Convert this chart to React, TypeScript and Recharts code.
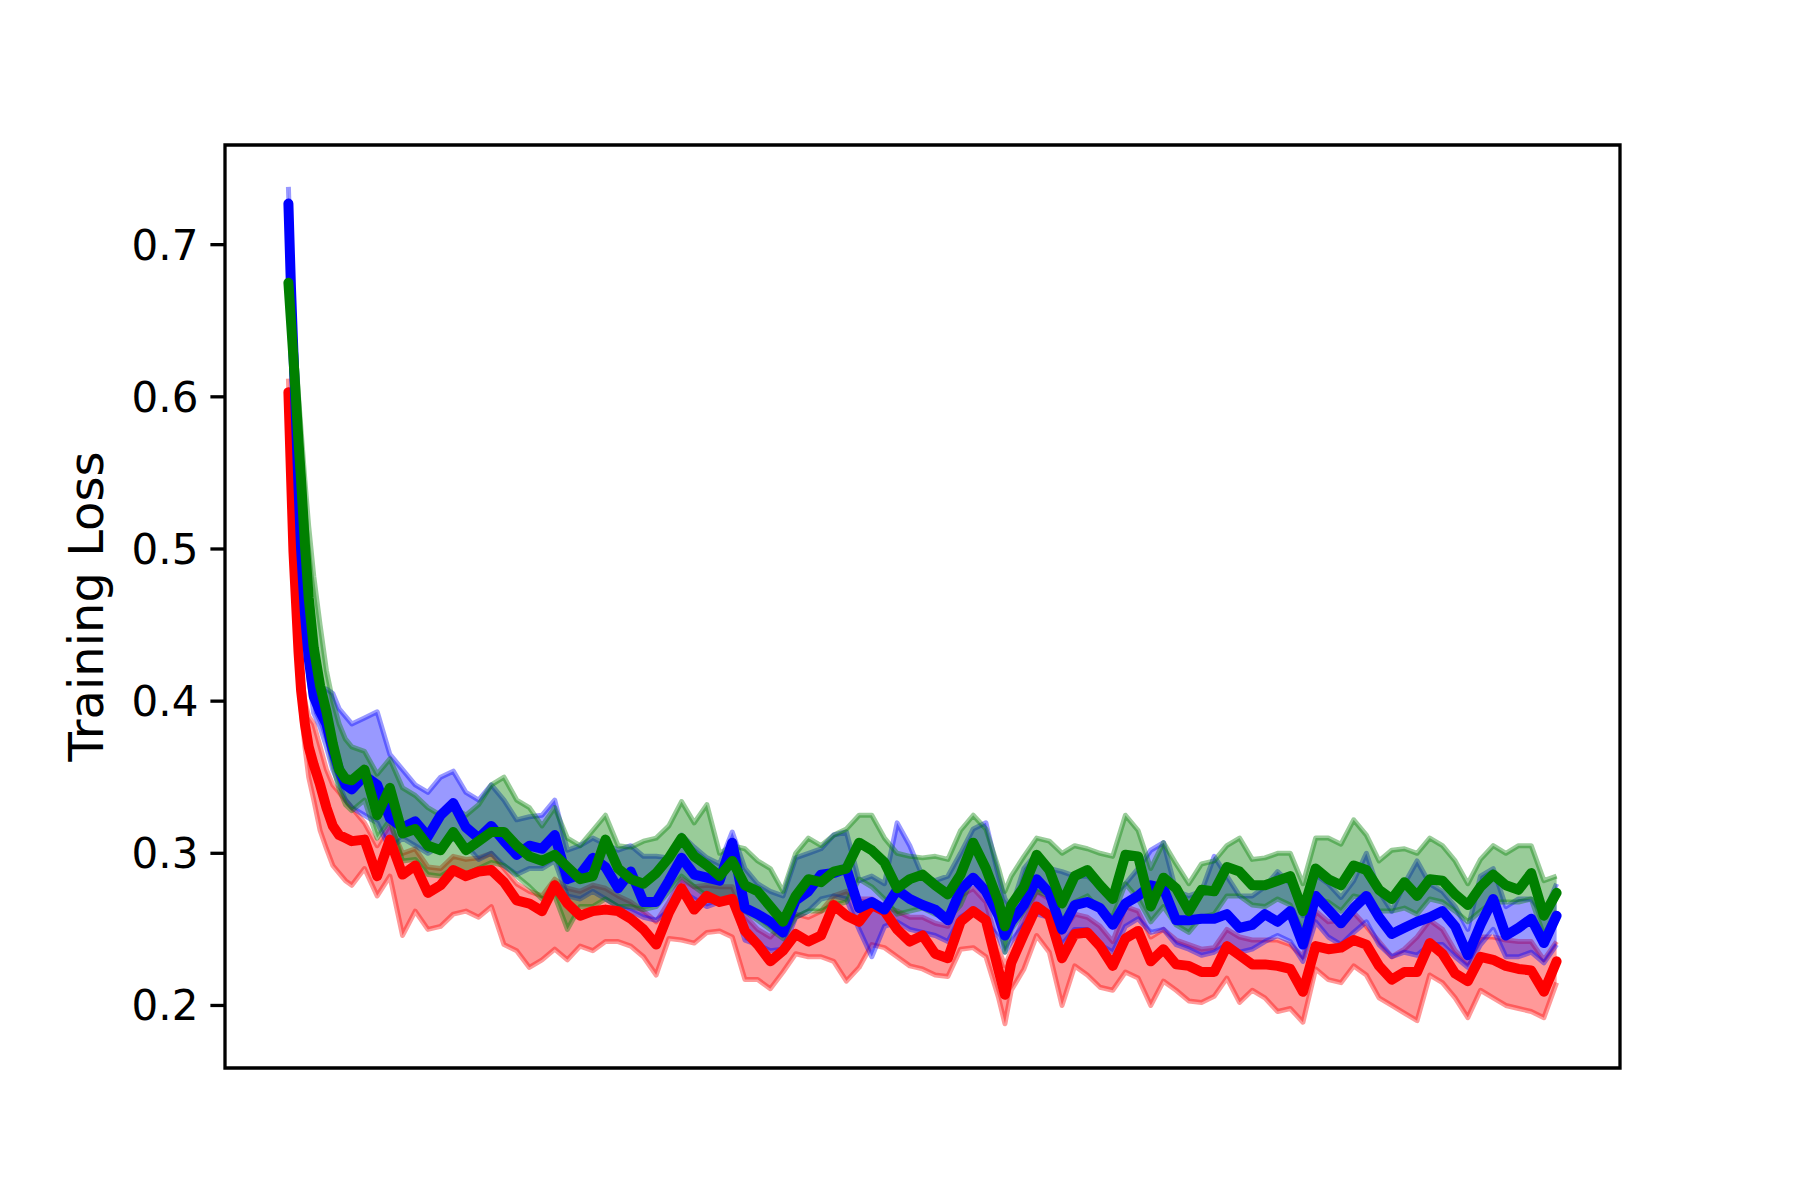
import { ComposedChart, Line, Area, XAxis, YAxis, ReferenceArea } from "recharts";

// training step (x) positions of every sample
const steps = [
  0, 2, 4, 6, 8, 10, 13, 16, 20, 25, 30, 35, 40, 45, 50,
  60, 70, 80, 90, 100, 110, 120, 130, 140, 150,
  160, 170, 180, 190, 200, 210, 220, 230, 240, 250,
  260, 270, 280, 290, 300, 310, 320, 330, 340, 350,
  360, 370, 380, 390, 400, 410, 420, 430, 440, 450,
  460, 470, 480, 490, 500, 510, 520, 530, 540, 550,
  560, 565,
  570, 580, 590, 600, 610, 620, 630, 640, 650, 660,
  670, 680, 690, 700, 710, 720, 730, 740, 750, 760,
  770, 780, 790, 800, 810, 820, 830, 840, 850, 860,
  870, 880, 890, 900, 910, 920, 930, 940, 950, 960,
  970, 980, 990, 1000,
];

const redLoss = [
  0.603, 0.55, 0.498, 0.465, 0.432, 0.407, 0.385, 0.37, 0.358, 0.345, 0.33, 0.318, 0.312, 0.31, 0.308,
  0.309, 0.285, 0.309, 0.286, 0.292, 0.274, 0.279, 0.289, 0.285, 0.288,
  0.289, 0.281, 0.269, 0.267, 0.262, 0.279, 0.267, 0.259, 0.262, 0.263,
  0.262, 0.257, 0.25, 0.24, 0.261, 0.277, 0.263, 0.272, 0.268, 0.27,
  0.249, 0.24, 0.229, 0.236, 0.247, 0.242, 0.246, 0.266, 0.259, 0.255,
  0.266, 0.262, 0.25, 0.242, 0.246, 0.234, 0.231, 0.255, 0.262, 0.256,
  0.223, 0.207,
  0.228, 0.247, 0.265, 0.259, 0.231, 0.247, 0.248, 0.239, 0.226, 0.244,
  0.249, 0.229, 0.237, 0.227, 0.226, 0.222, 0.222, 0.239, 0.233, 0.227,
  0.227, 0.226, 0.224, 0.209, 0.239, 0.237, 0.238, 0.243, 0.24, 0.226,
  0.217, 0.222, 0.222, 0.241, 0.234, 0.221, 0.216, 0.232, 0.23, 0.226,
  0.224, 0.223, 0.209, 0.229,
];
const redHigh = [
  0.612, 0.56, 0.51, 0.477, 0.444, 0.42, 0.4, 0.39, 0.385, 0.37, 0.355, 0.345, 0.34, 0.335, 0.33,
  0.32, 0.305, 0.319, 0.3, 0.303, 0.291, 0.29, 0.298, 0.296, 0.297,
  0.3, 0.29, 0.28, 0.275, 0.272, 0.283, 0.277, 0.275, 0.279, 0.277,
  0.272, 0.268, 0.262, 0.255, 0.268, 0.283, 0.278, 0.279, 0.278, 0.278,
  0.259, 0.25, 0.245, 0.254, 0.26, 0.258, 0.262, 0.272, 0.275, 0.27,
  0.27, 0.265, 0.262, 0.258, 0.258, 0.254, 0.252, 0.272, 0.277, 0.268,
  0.237, 0.226,
  0.236, 0.258, 0.275, 0.27, 0.248, 0.26, 0.258, 0.252, 0.242, 0.265,
  0.262, 0.245, 0.25, 0.243, 0.24, 0.237, 0.238, 0.25, 0.245, 0.243,
  0.243, 0.243, 0.24, 0.232, 0.262, 0.255, 0.256, 0.261, 0.252, 0.242,
  0.232, 0.237, 0.245, 0.256, 0.25, 0.236, 0.228, 0.245, 0.245, 0.243,
  0.242, 0.242, 0.23, 0.242,
];
const redLow = [
  0.598, 0.54, 0.486, 0.453, 0.42, 0.395, 0.37, 0.35, 0.335, 0.315, 0.303, 0.292, 0.287, 0.282, 0.279,
  0.29, 0.272, 0.285, 0.246, 0.262, 0.25, 0.252, 0.26, 0.262, 0.258,
  0.265, 0.24, 0.236, 0.225, 0.23, 0.237, 0.23, 0.239, 0.236, 0.242,
  0.242, 0.239, 0.232, 0.22, 0.244, 0.243, 0.241, 0.248, 0.249, 0.245,
  0.217, 0.217, 0.211, 0.222, 0.234, 0.232, 0.232, 0.229, 0.216, 0.225,
  0.24, 0.238, 0.232, 0.226, 0.224, 0.22, 0.219, 0.237, 0.238, 0.232,
  0.205, 0.188,
  0.21, 0.224, 0.246, 0.235, 0.2, 0.226, 0.22, 0.212, 0.21, 0.222,
  0.218, 0.2, 0.216, 0.21, 0.203, 0.202, 0.206, 0.218, 0.202, 0.21,
  0.205, 0.196, 0.198, 0.189, 0.224, 0.217, 0.215, 0.226, 0.22, 0.205,
  0.2, 0.195, 0.19, 0.22, 0.215, 0.205, 0.192, 0.21, 0.205, 0.2,
  0.198, 0.196, 0.192, 0.215,
];

const blueLoss = [
  0.727, 0.672, 0.628, 0.585, 0.54, 0.5, 0.458, 0.428, 0.403, 0.393, 0.385, 0.368, 0.355, 0.345, 0.342,
  0.351, 0.345, 0.323, 0.317, 0.321, 0.311, 0.325, 0.333, 0.317, 0.31,
  0.318, 0.308, 0.299, 0.305, 0.303, 0.312, 0.283, 0.286, 0.297, 0.291,
  0.277, 0.288, 0.268, 0.268, 0.282, 0.297, 0.286, 0.284, 0.282, 0.307,
  0.264, 0.26, 0.255, 0.248, 0.269, 0.275, 0.286, 0.287, 0.29, 0.264,
  0.268, 0.263, 0.276, 0.27, 0.266, 0.263, 0.256, 0.276, 0.284, 0.275,
  0.259, 0.246,
  0.255, 0.266, 0.283, 0.274, 0.25, 0.266, 0.268, 0.264, 0.253, 0.267,
  0.272, 0.279, 0.277, 0.256, 0.256, 0.257, 0.257, 0.26, 0.251, 0.253,
  0.26, 0.255, 0.262, 0.24, 0.272, 0.263, 0.254, 0.264, 0.272, 0.258,
  0.247, 0.251, 0.255, 0.258, 0.262, 0.252, 0.233, 0.253, 0.27, 0.246,
  0.251, 0.257, 0.241, 0.259,
];
const blueHigh = [
  0.738, 0.684, 0.64, 0.598, 0.553, 0.513, 0.472, 0.442, 0.418, 0.408, 0.408, 0.405, 0.395, 0.39, 0.385,
  0.389, 0.393, 0.365, 0.355, 0.345, 0.34, 0.35, 0.354, 0.34, 0.335,
  0.345, 0.335, 0.322, 0.324, 0.325, 0.335, 0.302, 0.305, 0.31, 0.306,
  0.302, 0.305, 0.298, 0.298, 0.297, 0.312, 0.304, 0.297, 0.293, 0.314,
  0.29, 0.28, 0.275, 0.272, 0.297, 0.3, 0.303, 0.312, 0.314, 0.282,
  0.285, 0.28, 0.32, 0.305, 0.285, 0.282, 0.285, 0.3, 0.316, 0.32,
  0.285, 0.27,
  0.264, 0.29, 0.3, 0.29, 0.288, 0.285, 0.285, 0.278, 0.272, 0.28,
  0.29, 0.302, 0.307, 0.275, 0.272, 0.275, 0.298, 0.285, 0.272, 0.272,
  0.278, 0.288, 0.28, 0.259, 0.286, 0.28, 0.271, 0.282, 0.3, 0.275,
  0.262, 0.28, 0.295, 0.28, 0.275, 0.265, 0.25, 0.285, 0.29, 0.265,
  0.27, 0.27, 0.26, 0.28,
];
const blueLow = [
  0.722, 0.662, 0.617, 0.574, 0.528, 0.488, 0.446, 0.416, 0.392, 0.383, 0.37, 0.355, 0.345, 0.335, 0.33,
  0.325, 0.32, 0.303, 0.31, 0.305, 0.3, 0.305, 0.31, 0.305, 0.296,
  0.3, 0.292, 0.286, 0.29, 0.29, 0.295, 0.272, 0.27, 0.275, 0.27,
  0.265, 0.262, 0.258, 0.256, 0.262, 0.275, 0.27, 0.265, 0.268, 0.27,
  0.243, 0.24, 0.236, 0.237, 0.258, 0.262, 0.27, 0.272, 0.27, 0.25,
  0.232, 0.252, 0.255, 0.25, 0.248, 0.246, 0.242, 0.258, 0.263, 0.255,
  0.245, 0.235,
  0.242, 0.253, 0.26, 0.258, 0.24, 0.25, 0.25, 0.24, 0.235, 0.252,
  0.257, 0.248, 0.25, 0.24, 0.237, 0.233, 0.235, 0.24, 0.235, 0.237,
  0.242, 0.246, 0.242, 0.229, 0.255, 0.245, 0.24, 0.248, 0.255, 0.24,
  0.232, 0.235, 0.233, 0.24, 0.24, 0.232, 0.225, 0.24, 0.25, 0.232,
  0.232, 0.235, 0.228, 0.24,
];

const greenLoss = [
  0.675, 0.65, 0.625, 0.598, 0.57, 0.545, 0.503, 0.468, 0.435, 0.41, 0.393, 0.372, 0.355, 0.349, 0.348,
  0.355, 0.325, 0.343, 0.313, 0.316, 0.305, 0.302, 0.314, 0.302, 0.308,
  0.314, 0.314, 0.305, 0.298, 0.295, 0.299, 0.291, 0.283, 0.285, 0.309,
  0.29, 0.283, 0.28, 0.287, 0.297, 0.31, 0.298, 0.292, 0.285, 0.295,
  0.279, 0.275, 0.265, 0.255, 0.272, 0.283, 0.281, 0.288, 0.29, 0.307,
  0.302, 0.294, 0.277, 0.283, 0.286, 0.279, 0.273, 0.286, 0.307, 0.29,
  0.268, 0.252,
  0.266, 0.278, 0.299, 0.289, 0.267, 0.285, 0.289, 0.279, 0.27, 0.299,
  0.298, 0.265, 0.284, 0.277, 0.262, 0.276, 0.275, 0.291, 0.288, 0.279,
  0.279, 0.282, 0.285, 0.262, 0.29, 0.283, 0.279, 0.292, 0.289, 0.276,
  0.27, 0.281, 0.272, 0.283, 0.282, 0.273, 0.266, 0.278, 0.286, 0.279,
  0.276, 0.287, 0.259, 0.274,
];
const greenHigh = [
  0.685, 0.668, 0.648, 0.625, 0.6, 0.578, 0.545, 0.515, 0.482, 0.45, 0.42, 0.4, 0.385, 0.375, 0.37,
  0.367, 0.352, 0.362, 0.343, 0.338, 0.33, 0.325, 0.33, 0.325, 0.332,
  0.345, 0.35, 0.335, 0.33, 0.318, 0.33, 0.31, 0.305, 0.315, 0.325,
  0.305, 0.304, 0.308, 0.31, 0.318, 0.334, 0.32, 0.332, 0.3, 0.305,
  0.303, 0.295, 0.29, 0.275, 0.3, 0.31, 0.305, 0.312, 0.316, 0.325,
  0.325, 0.31, 0.3, 0.298, 0.297, 0.298, 0.296, 0.315, 0.325, 0.316,
  0.29, 0.275,
  0.285, 0.298, 0.31, 0.308, 0.3, 0.305, 0.303, 0.3, 0.298, 0.325,
  0.315, 0.29, 0.307, 0.293, 0.28, 0.293, 0.295, 0.305, 0.31, 0.296,
  0.297, 0.3, 0.3, 0.28, 0.31, 0.31, 0.306, 0.322, 0.312, 0.295,
  0.302, 0.303, 0.3, 0.31, 0.305, 0.295, 0.28, 0.296, 0.305, 0.3,
  0.305, 0.305, 0.282, 0.285,
];
const greenLow = [
  0.668, 0.642, 0.617, 0.59, 0.562, 0.537, 0.495, 0.46, 0.425, 0.398, 0.378, 0.358, 0.342, 0.332, 0.328,
  0.335, 0.31, 0.322, 0.295, 0.296, 0.286, 0.285, 0.29, 0.286, 0.29,
  0.294, 0.292, 0.285, 0.278, 0.27, 0.272, 0.25, 0.265, 0.265, 0.27,
  0.265, 0.265, 0.263, 0.265, 0.275, 0.285, 0.278, 0.272, 0.268, 0.268,
  0.262, 0.256, 0.25, 0.244, 0.258, 0.262, 0.262, 0.266, 0.268, 0.283,
  0.278, 0.27, 0.26, 0.262, 0.264, 0.26, 0.257, 0.266, 0.285, 0.275,
  0.26, 0.235,
  0.25, 0.262, 0.275, 0.272, 0.255, 0.268, 0.272, 0.262, 0.258, 0.28,
  0.27, 0.255, 0.265, 0.253, 0.248, 0.258, 0.26, 0.272, 0.272, 0.266,
  0.265, 0.27, 0.266, 0.248, 0.27, 0.268, 0.262, 0.272, 0.27, 0.262,
  0.262, 0.264, 0.26, 0.27, 0.268, 0.262, 0.255, 0.262, 0.268, 0.268,
  0.268, 0.27, 0.246, 0.262,
];

const yTicks = [0.2, 0.3, 0.4, 0.5, 0.6, 0.7];

const rows = steps.map((step, i) => ({
  step,
  red: redLoss[i],
  redBand: [redLow[i], redHigh[i]],
  blue: blueLoss[i],
  blueBand: [blueLow[i], blueHigh[i]],
  green: greenLoss[i],
  greenBand: [greenLow[i], greenHigh[i]],
}));

const runs = [
  { key: "red", color: "#ff0000" },
  { key: "blue", color: "#0000ff" },
  { key: "green", color: "#008000" },
];

const X_DOMAIN: [number, number] = [-50, 1050];
const Y_DOMAIN: [number, number] = [0.1589, 0.7655];
const font = "'DejaVu Sans', sans-serif";

export default function App() {
  return (
    <div style={{ position: "absolute", left: 0, top: 0, width: 1800, height: 1200, background: "#fff" }}>
      <ComposedChart
        width={1800}
        height={1200}
        data={rows}
        margin={{ top: 145, right: 180, bottom: 132, left: 60 }}
      >
        <XAxis dataKey="step" type="number" domain={X_DOMAIN} allowDataOverflow hide />
        <YAxis
          type="number"
          width={165}
          domain={Y_DOMAIN}
          allowDataOverflow
          ticks={yTicks}
          tickFormatter={(v: number) => v.toFixed(1)}
          axisLine={false}
          tickSize={14.6}
          tickMargin={12}
          tickLine={{ stroke: "#000", strokeWidth: 3.3 }}
          tick={{ fontFamily: font, fontSize: 42, fill: "#000" }}
          label={{
            content: ({ viewBox }: any) => {
              const cx = viewBox.x + 26;
              const cy = viewBox.y + viewBox.height / 2;
              return (
                <text
                  x={cx}
                  y={cy}
                  transform={`rotate(-90 ${cx} ${cy})`}
                  textAnchor="middle"
                  dominantBaseline="central"
                  fontFamily={font}
                  fontSize={48}
                  fill="#000"
                >
                  Training Loss
                </text>
              );
            },
          }}
        />
        {runs.map((r) => (
          <Area
            key={`${r.key}-band`}
            dataKey={`${r.key}Band`}
            type="linear"
            stroke={r.color}
            strokeOpacity={0.4}
            strokeWidth={5}
            strokeLinejoin="round"
            fill={r.color}
            fillOpacity={0.4}
            dot={false}
            activeDot={false}
            isAnimationActive={false}
          />
        ))}
        {runs.map((r) => (
          <Line
            key={r.key}
            dataKey={r.key}
            type="linear"
            stroke={r.color}
            strokeWidth={10}
            strokeLinejoin="round"
            strokeLinecap="round"
            dot={false}
            activeDot={false}
            isAnimationActive={false}
          />
        ))}
        <ReferenceArea
          x1={X_DOMAIN[0]}
          x2={X_DOMAIN[1]}
          y1={Y_DOMAIN[0]}
          y2={Y_DOMAIN[1]}
          fill="none"
          stroke="#000"
          strokeWidth={3.3}
          ifOverflow="visible"
        />
      </ComposedChart>
    </div>
  );
}
